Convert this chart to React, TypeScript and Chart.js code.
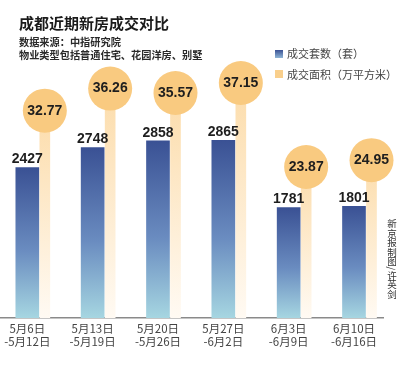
import React, { useEffect, useRef } from 'react';
import { Chart, registerables } from 'chart.js';

Chart.register(...registerables);

const periodStart = ['5月6日', '5月13日', '5月20日', '5月27日', '6月3日', '6月10日'];
const periodEnd = ['-5月12日', '-5月19日', '-5月26日', '-6月2日', '-6月9日', '-6月16日'];
const unitsSold = [2427, 2748, 2858, 2865, 1781, 1801];
const areaSold = [32.77, 36.26, 35.57, 37.15, 23.87, 24.95];

const TITLE = '成都近期新房成交对比';
const SUB1 = '数据来源：中指研究院';
const SUB2 = '物业类型包括普通住宅、花园洋房、别墅';
const LEG1 = '成交套数（套）';
const LEG2 = '成交面积（万平方米）';
const CREDIT = '新京报制图/许英剑';

const OFFSET = 0.268;
const CJK = "'Noto Sans CJK SC', sans-serif";
const NUM = "'Liberation Sans', Arial, sans-serif";

export default function App() {
  const ref = useRef<HTMLCanvasElement | null>(null);

  useEffect(() => {
    if (!ref.current) return;

    const labelPlugin = {
      id: 'valueLabels',
      afterDatasetsDraw(chart: any) {
        const c = chart.ctx;
        c.save();
        c.fillStyle = '#1e1e1e';
        c.textAlign = 'center';
        c.textBaseline = 'middle';
        c.font = `bold 14px ${NUM}`;
        const barMeta = chart.getDatasetMeta(0);
        barMeta.data.forEach((el: any, i: number) => {
          c.fillText(String(unitsSold[i]), el.x, el.y - 8);
        });
        const ptMeta = chart.getDatasetMeta(2);
        ptMeta.data.forEach((el: any, i: number) => {
          c.fillText(areaSold[i].toFixed(2), el.x, el.y);
        });
        c.restore();
      },
    };

    const chart = new Chart(ref.current, {
      type: 'bar',
      data: {
        datasets: [
          {
            type: 'bar',
            label: LEG1,
            data: unitsSold.map((v, i) => ({ x: i, y: v })),
            yAxisID: 'y',
            grouped: false,
            barThickness: 23,
            order: 1,
            borderWidth: 0,
            backgroundColor: (ctx: any) => {
              const chart = ctx.chart;
              const a = chart.chartArea;
              if (!a || ctx.type !== 'data') return '#5a7bb5';
              const top = chart.scales.y.getPixelForValue(unitsSold[ctx.dataIndex]);
              const g = chart.ctx.createLinearGradient(0, top, 0, a.bottom);
              g.addColorStop(0, '#3a5194');
              g.addColorStop(0.55, '#6a8cc0');
              g.addColorStop(1, '#a6d6e1');
              return g;
            },
          },
          {
            type: 'bar',
            label: 'band',
            data: areaSold.map((v, i) => ({ x: i + OFFSET, y: v })),
            yAxisID: 'y1',
            grouped: false,
            barThickness: 10,
            order: 3,
            borderWidth: 0,
            backgroundColor: (ctx: any) => {
              const chart = ctx.chart;
              const a = chart.chartArea;
              if (!a || ctx.type !== 'data') return '#fde3bd';
              const top = chart.scales.y1.getPixelForValue(areaSold[ctx.dataIndex]);
              const g = chart.ctx.createLinearGradient(0, top, 0, a.bottom);
              g.addColorStop(0, '#fcdcaa');
              g.addColorStop(1, '#fffaf3');
              return g;
            },
          },
          {
            type: 'line',
            label: LEG2,
            data: areaSold.map((v, i) => ({ x: i + OFFSET, y: v })),
            yAxisID: 'y1',
            showLine: false,
            pointRadius: 22,
            pointHoverRadius: 22,
            pointBorderWidth: 0,
            pointBackgroundColor: '#f9ca80',
            borderWidth: 0,
            order: 2,
            clip: false,
          } as any,
        ],
      },
      options: {
        animation: false,
        responsive: false,
        devicePixelRatio: 1,
        events: [],
        layout: { autoPadding: false, padding: { top: 70, right: 17, bottom: 0, left: 0 } },
        plugins: {
          legend: { display: false },
          title: { display: false },
          tooltip: { enabled: false },
        },
        scales: {
          x: {
            type: 'linear',
            offset: false,
            min: -0.418,
            max: 5.444,
            afterBuildTicks: (scale: any) => {
              scale.ticks = periodStart.map((_, i) => ({ value: i }));
            },
            afterFit: (scale: any) => {
              scale.height = 60;
              scale.paddingLeft = 0;
              scale.paddingRight = 0;
            },
            grid: { display: false, drawTicks: false },
            border: { display: true, color: '#8a8a8a', width: 1.5 },
            ticks: {
              autoSkip: false,
              maxRotation: 0,
              padding: 4,
              color: '#444',
              font: { family: CJK, size: 11.5, lineHeight: 1.13 },
              callback: (value: any) => {
                const i = Math.round(Number(value));
                if (i < 0 || i >= periodStart.length) return '';
                return [periodStart[i], periodEnd[i]];
              },
            },
          },
          y: {
            display: false,
            min: 0,
            max: 4000,
          },
          y1: {
            display: false,
            min: 0,
            max: 39.2,
          },
        },
      } as any,
      plugins: [labelPlugin],
    });

    return () => chart.destroy();
  }, []);

  return (
    <div
      style={{
        position: 'fixed',
        left: 0,
        top: 0,
        width: 400,
        height: 378,
        background: '#fff',
        overflow: 'hidden',
      }}
    >
      <canvas ref={ref} width={400} height={378} style={{ position: 'absolute', left: 0, top: 0, width: 400, height: 378 }} />
      <div
        style={{
          position: 'absolute',
          left: 19,
          top: 15,
          fontFamily: CJK,
          fontWeight: 700,
          fontSize: 15,
          lineHeight: '16px',
          color: '#1a1a1a',
          whiteSpace: 'nowrap',
        }}
      >
        {TITLE}
      </div>
      <div
        style={{
          position: 'absolute',
          left: 19,
          top: 35,
          fontFamily: CJK,
          fontWeight: 700,
          fontSize: 10.2,
          lineHeight: '13px',
          color: '#2a2a2a',
          whiteSpace: 'nowrap',
        }}
      >
        <div>{SUB1}</div>
        <div>{SUB2}</div>
      </div>
      <div style={{ position: 'absolute', left: 275, top: 50, width: 8, height: 8, background: 'linear-gradient(#3a5194, #8fb5d6)' }} />
      <div style={{ position: 'absolute', left: 275, top: 70, width: 8, height: 8, background: '#f9cf8c' }} />
      <div
        style={{
          position: 'absolute',
          left: 287,
          top: 47,
          fontFamily: CJK,
          fontSize: 11,
          lineHeight: '13px',
          color: '#444',
          whiteSpace: 'nowrap',
        }}
      >
        {LEG1}
      </div>
      <div
        style={{
          position: 'absolute',
          left: 287,
          top: 67.5,
          fontFamily: CJK,
          fontSize: 11,
          lineHeight: '13px',
          color: '#444',
          whiteSpace: 'nowrap',
        }}
      >
        {LEG2}
      </div>
      <div
        style={{
          position: 'absolute',
          left: 386,
          top: 219,
          writingMode: 'vertical-rl',
          fontFamily: CJK,
          fontSize: 9.5,
          lineHeight: '11px',
          color: '#333',
          whiteSpace: 'nowrap',
        }}
      >
        {CREDIT}
      </div>
    </div>
  );
}
